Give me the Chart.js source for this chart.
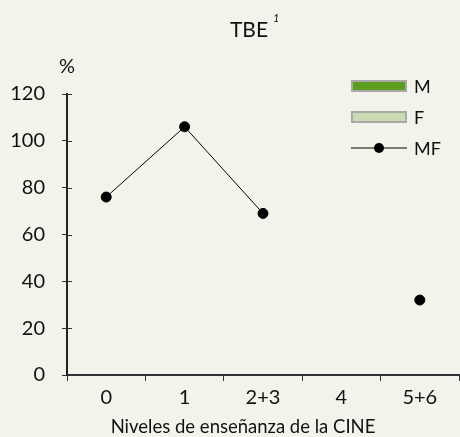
<!DOCTYPE html>
<html>
<head>
<meta charset="utf-8">
<script src="https://cdn.jsdelivr.net/npm/chart.js@4/dist/chart.umd.min.js"></script>
<style>
  html, body { margin: 0; padding: 0; background: #f2f4ec; overflow: hidden; }
  canvas { display: block; }
</style>
</head>
<body>
<canvas id="chart" width="465" height="437"></canvas>
<script>
// data
const categories = ['0', '1', '2+3', '4', '5+6'];
const mValues = [null, null, null, null, null];
const fValues = [null, null, null, null, null];
const mfValues = [76, 106, 69, null, 32];
const yTicks = [0, 20, 40, 60, 80, 100, 120];

const titleText = 'TBE';
const titleNote = '1';
const yUnit = '%';
const xTitle = 'Niveles de enseñanza de la CINE';

const FONT = 'Lato, "Liberation Sans", sans-serif';
const INK = '#111';

const extras = {
  id: 'extras',
  afterDraw(chart) {
    const ctx = chart.ctx;
    const y = chart.scales.y;
    const area = chart.chartArea;
    ctx.save();

    // inner half of the y ticks (they cross the axis)
    ctx.strokeStyle = '#333';
    ctx.lineWidth = 1;
    yTicks.forEach(v => {
      const py = Math.round(y.getPixelForValue(v)) + 0.5;
      ctx.beginPath();
      ctx.moveTo(area.left, py);
      ctx.lineTo(area.left + 5, py);
      ctx.stroke();
    });

    // title with superscript note
    ctx.fillStyle = INK;
    ctx.textBaseline = 'middle';
    ctx.textAlign = 'center';
    ctx.font = '21px ' + FONT;
    ctx.fillText(titleText, 249, 30);
    const w = ctx.measureText(titleText).width;
    ctx.font = 'italic 11px ' + FONT;
    ctx.textAlign = 'left';
    ctx.fillText(titleNote, 249 + w / 2 + 5, 18);

    // unit above the y axis
    ctx.font = '20px ' + FONT;
    ctx.textAlign = 'center';
    ctx.fillText(yUnit, area.left, 67);

    // x axis title
    ctx.font = '18.5px ' + FONT;
    ctx.fillText(xTitle, 243, 427);

    // legend
    chart.data.datasets.forEach((ds, i) => {
      const ly = 86 + i * 31;
      if (ds.type === 'line') {
        ctx.strokeStyle = '#000';
        ctx.lineWidth = 1;
        ctx.beginPath();
        ctx.moveTo(351, ly);
        ctx.lineTo(407, ly);
        ctx.stroke();
        ctx.fillStyle = '#000';
        ctx.beginPath();
        ctx.arc(379, ly, 5, 0, Math.PI * 2);
        ctx.fill();
      } else {
        ctx.fillStyle = ds.backgroundColor;
        ctx.fillRect(352, ly - 5, 54, 10);
        ctx.strokeStyle = '#a8a8a8';
        ctx.lineWidth = 2;
        ctx.strokeRect(352, ly - 5, 54, 10);
      }
      ctx.fillStyle = INK;
      ctx.font = '18px ' + FONT;
      ctx.textAlign = 'left';
      ctx.fillText(ds.label, 414, ly + 1);
    });
    ctx.restore();
  }
};

new Chart(document.getElementById('chart'), {
  data: {
    labels: categories,
    datasets: [
      { type: 'bar', label: 'M', data: mValues, backgroundColor: '#5e9e1f' },
      { type: 'bar', label: 'F', data: fValues, backgroundColor: '#c9dbb1' },
      {
        type: 'line', label: 'MF', data: mfValues,
        borderColor: '#000', borderWidth: 1,
        pointBackgroundColor: '#000', pointBorderColor: '#000',
        pointRadius: 5, spanGaps: false
      }
    ]
  },
  options: {
    responsive: false,
    animation: false,
    layout: { padding: { top: 94, right: 0, left: 0, bottom: 0 } },
    plugins: {
      legend: { display: false },
      title: { display: false },
      tooltip: { enabled: false }
    },
    scales: {
      x: {
        type: 'category',
        offset: true,
        afterFit: s => { s.height = 62; },
        grid: { offset: true, drawOnChartArea: false, tickLength: 6, color: '#333' },
        border: { color: '#333', width: 2 },
        ticks: { color: INK, font: { family: FONT, size: 20 }, padding: 5 }
      },
      y: {
        min: 0, max: 120,
        afterFit: s => { s.width = 67; },
        afterBuildTicks: s => { s.ticks = yTicks.map(v => ({ value: v })); },
        grid: { drawOnChartArea: false, tickLength: 5, color: '#333' },
        border: { color: '#222', width: 2 },
        ticks: { color: INK, font: { family: FONT, size: 20 }, padding: 17 }
      }
    }
  },
  plugins: [extras]
});
</script>
</body>
</html>
